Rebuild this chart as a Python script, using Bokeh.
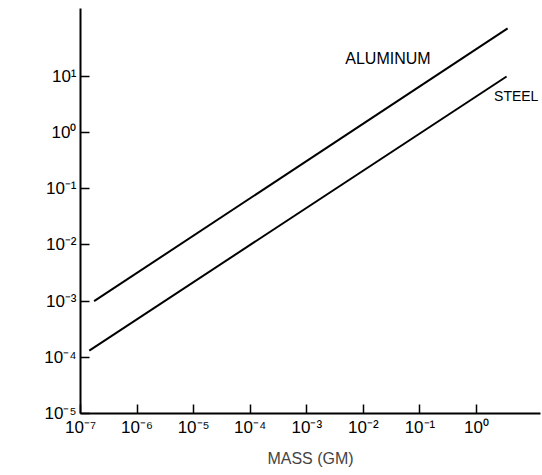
import math
from bokeh.plotting import figure
from bokeh.models import Range1d, FixedTicker, Label
from bokeh.embed import file_html
from bokeh.resources import INLINE

# Data
aluminum_mass = [1.74e-7, 3.55]
aluminum_area = [1.0e-3, 71.6]
steel_mass = [1.43e-7, 3.4]
steel_area = [1.32e-4, 10.0]

x_ticks = [1e-7, 1e-6, 1e-5, 1e-4, 1e-3, 1e-2, 1e-1, 1e0]
x_tick_labels = ["10⁻⁷", "10⁻⁶", "10⁻⁵", "10⁻⁴", "10⁻³", "10⁻²", "10⁻¹", "10⁰"]
y_ticks = [1e-5, 1e-4, 1e-3, 1e-2, 1e-1, 1e0, 1e1]
y_tick_labels = ["10⁻⁵", "10⁻⁴", "10⁻³", "10⁻²", "10⁻¹", "10⁰", "10¹"]

FONT = "Liberation Sans"

p = figure(width=542, height=475, output_backend="svg", toolbar_location=None,
           x_axis_type="log", y_axis_type="log",
           x_range=Range1d(1e-7, 10 ** 1.131),
           y_range=Range1d(1e-5, 10 ** 2.21),
           min_border_left=80, min_border_right=2, min_border_top=8, min_border_bottom=62)
p.outline_line_color = None
p.grid.visible = False
p.background_fill_color = "white"
p.border_fill_color = "white"

p.line(aluminum_mass, aluminum_area, line_color="black", line_width=2)
p.line(steel_mass, steel_area, line_color="black", line_width=2)

for ax, ticks, labels in ((p.xaxis[0], x_ticks, x_tick_labels), (p.yaxis[0], y_ticks, y_tick_labels)):
    ax.ticker = FixedTicker(ticks=ticks, minor_ticks=[])
    ax.major_label_overrides = {t: l for t, l in zip(ticks, labels)}
    ax.axis_line_width = 2
    ax.axis_line_color = "black"
    ax.major_tick_in = 9
    ax.major_tick_out = 0
    ax.major_tick_line_width = 1.5
    ax.minor_tick_line_color = None
    ax.major_label_text_font = FONT
    ax.major_label_text_font_size = "17px"
    ax.major_label_text_color = "black"
    ax.major_label_standoff = 4

p.xaxis.axis_label = "MASS (GM)"
p.xaxis.axis_label_text_font = FONT
p.xaxis.axis_label_text_font_size = "16px"
p.xaxis.axis_label_text_font_style = "normal"
p.xaxis.axis_label_standoff = 10

p.add_layout(Label(x=10 ** -7.0, y=10 ** -0.905, text="HOLE AREA (CM²)", angle=math.pi / 2,
                   x_offset=-59, text_align="center", text_baseline="middle", text_font=FONT,
                   text_font_size="16px", text_color="black"))

p.add_layout(Label(x=10 ** -2.32, y=10 ** 1.32, text="ALUMINUM", text_align="left",
                   text_baseline="middle", text_font=FONT, text_font_size="16px", text_color="black"))
p.add_layout(Label(x=10 ** 0.31, y=10 ** 0.644, text="STEEL", text_align="left",
                   text_baseline="middle", text_font=FONT, text_font_size="14px", text_color="black"))

open("out.html", "w").write(file_html(p, INLINE))
